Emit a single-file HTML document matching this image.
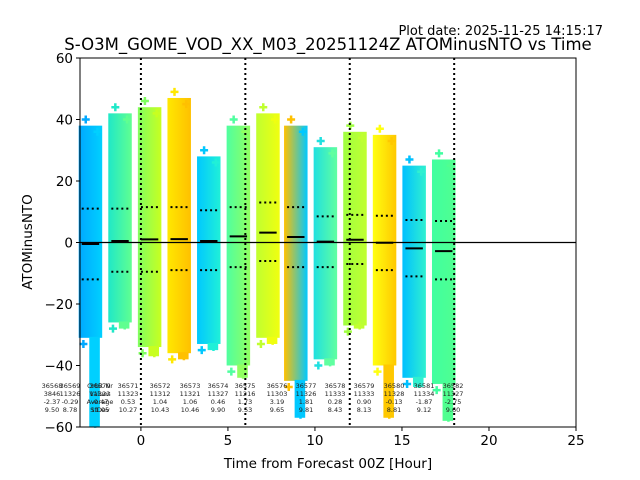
<!DOCTYPE html>
<html><head><meta charset="utf-8"><style>
body{margin:0;background:#fff;}
svg{display:block;font-family:"DejaVu Sans","Liberation Sans",sans-serif;}
</style></head><body>
<svg id="chart" width="640" height="480">
<text x="603" y="35" font-size="13" text-anchor="end">Plot date: 2025-11-25 14:15:17</text>
<text x="328" y="50" font-size="16.5" text-anchor="middle">S-O3M_GOME_VOD_XX_M03_20251124Z ATOMinusNTO vs Time</text>
<text x="328" y="468" font-size="13.5" text-anchor="middle">Time from Forecast 00Z [Hour]</text>
<text x="32" y="242" font-size="13.5" text-anchor="middle" transform="rotate(-90 32 242)">ATOMinusNTO</text>
<g id="plot"></g>
</svg>
<script>
const groupX=[-2.9,-1.2,0.5,2.2,3.9,5.6,7.3,8.9,10.6,12.3,14.0,15.7,17.4];
const groupTop=[38,42,44,47,28,38,42,38,31,36,35,25,27];
const groupBottom=[-31,-26,-34,-36,-33,-40,-31,-45,-38,-27,-40,-44,-46];
const groupTail=[-60,-28,-37,-38,-35,-44,-33,-57,-40,-28,-57,-47,-58];
const groupMean=[-0.5,0.5,1.0,1.1,0.5,2.0,3.2,1.8,0.3,0.9,-0.1,-1.9,-2.8];
const groupUpper=[11,11,11.5,11.5,10.5,11.5,13,11.5,8.5,9,8.7,7.3,7];
const groupLower=[-12,-9.5,-9.5,-9,-9,-8,-6,-8,-8,-7,-9,-11,-12];
const groupColL=["#00a8ff","#20e8c8","#80ff60","#ffe800","#00c8ff","#50ffa0","#c0ff30","#ffc000","#20e0e0","#a0ff40","#ffff10","#00c0ff","#40ffa0"];
const groupColR=["#00d0ff","#60ff90","#c8ff20","#ffc000","#20f0d8","#90ff60","#f0ff10","#00c8ff","#60ffa0","#c0ff30","#ffc800","#30f0d0","#50ff90"];
const xTicks=[0,5,10,15,20,25];
const yTicks=[-60,-40,-20,0,20,40,60];
const vLines=[0,6,12,18];
const annX=[52,70,100,128,160,190,218,245,277,306,335,364,394,424,453];
const annOrbit=["36568","36569","36570","36571","36572","36573","36574","36575","36576","36577","36578","36579","36580","36581","36582"];
const annCount=["3846","11326","11322","11323","11312","11321","11327","11216","11303","11326","11333","11333","11328","11334","11327"];
const annMean=["-2.37","-0.29","-0.47","0.53","1.04","1.06","0.46","1.73","3.19","1.81","0.28","0.90","-0.13","-1.87","-2.75"];
const annStd=["9.50","8.78","11.05","10.27","10.43","10.46","9.90","9.53","9.65","9.81","8.43","8.13","8.81","9.12","9.60"];

const L=80,R=576,T=58,B=427,x0=-3.5,x1=25,y0=-60,y1=60;
const sx=v=>L+(v-x0)/(x1-x0)*(R-L);
const sy=v=>B-(v-y0)/(y1-y0)*(B-T);
const NS="http://www.w3.org/2000/svg";
const g=document.getElementById('plot');
function mk(tag,attrs,parent){const e=document.createElementNS(NS,tag);for(const k in attrs)e.setAttribute(k,attrs[k]);(parent||g).appendChild(e);return e;}
const defs=mk('defs',{});
groupX.forEach((gx,i)=>{
  const lg=mk('linearGradient',{id:'gr'+i,x1:'0',x2:'1',y1:'0',y2:'0'},defs);
  mk('stop',{offset:'0','stop-color':groupColL[i]},lg);
  mk('stop',{offset:'1','stop-color':groupColR[i]},lg);
});
groupX.forEach((gx,i)=>{
  const w=1.35, xl=sx(gx-w/2), xr=sx(gx+w/2);
  const r=mk('rect',{x:xl,y:sy(groupTop[i]),width:xr-xl,height:sy(groupBottom[i])-sy(groupTop[i]),fill:'url(#gr'+i+')'});
  
  
  const tx=xl+(xr-xl)*0.45, tw=(xr-xl)*0.45;
  const t=mk('rect',{x:tx,y:sy(groupBottom[i])-1,width:tw,height:sy(groupTail[i])-sy(groupBottom[i])+1,fill:groupColR[i]});
  
  
  [[groupTop[i]+2,groupColL[i],0.3],[groupTop[i]-2,groupColR[i],0.8],[groupTail[i]+1,groupColR[i],0.7],[groupBottom[i]-2,groupColL[i],0.2]].forEach(([v,c,f])=>{
    const cx=xl+(xr-xl)*f, cy=sy(v);
    const p=mk('path',{d:`M${cx-4},${cy}H${cx+4}M${cx},${cy-4}V${cy+4}`,stroke:c,'stroke-width':2.5});
    
    
  });
});
const z=mk('line',{x1:L,x2:R,y1:sy(0),y2:sy(0),stroke:'#000','stroke-width':1.2});


groupX.forEach((gx,i)=>{
  const a=sx(gx-0.5),b=sx(gx+0.5);
  const m=mk('line',{x1:a,x2:b,y1:sy(groupMean[i]),y2:sy(groupMean[i]),stroke:'#000','stroke-width':2});
  
  
  [groupUpper[i],groupLower[i]].forEach(v=>{
    const s=mk('line',{x1:a,x2:b,y1:sy(v),y2:sy(v),stroke:'#000','stroke-width':2,'stroke-dasharray':'2 3'});
    
    
  });
});
vLines.forEach(v=>{
  const l=mk('line',{x1:sx(v),x2:sx(v),y1:T,y2:B,stroke:'#000','stroke-width':2,'stroke-dasharray':'2 3'});
  
  
});
annX.forEach((ax,i)=>{
  [annOrbit[i],annCount[i],annMean[i],annStd[i]].forEach((t,k)=>{
    const e=mk('text',{x:ax,y:388+k*8,'font-size':6.5,'text-anchor':'middle',fill:'#222'});
    e.textContent=t;
    
    
  });
});
['Orbit Nr','Values','Average','StDev'].forEach((t,k)=>{
  const e=mk('text',{x:100,y:388+k*8,'font-size':6.5,'text-anchor':'middle',fill:'#222'});
  e.textContent=t;
  
  
});
const f=mk('rect',{x:L,y:T,width:R-L,height:B-T,fill:'none',stroke:'#000','stroke-width':1});


xTicks.forEach(v=>{
  mk('line',{x1:sx(v),x2:sx(v),y1:B,y2:B+4,stroke:'#000'});
  const t=mk('text',{x:sx(v),y:B+18,'font-size':13.5,'text-anchor':'middle'});
  t.textContent=v;
  
  
});
yTicks.forEach(v=>{
  mk('line',{x1:L-4,x2:L,y1:sy(v),y2:sy(v),stroke:'#000'});
  const t=mk('text',{x:L-7,y:sy(v)+5,'font-size':13.5,'text-anchor':'end'});
  t.textContent=v<0?'\u2212'+(-v):v;
  
  
});
</script>
</body></html>
